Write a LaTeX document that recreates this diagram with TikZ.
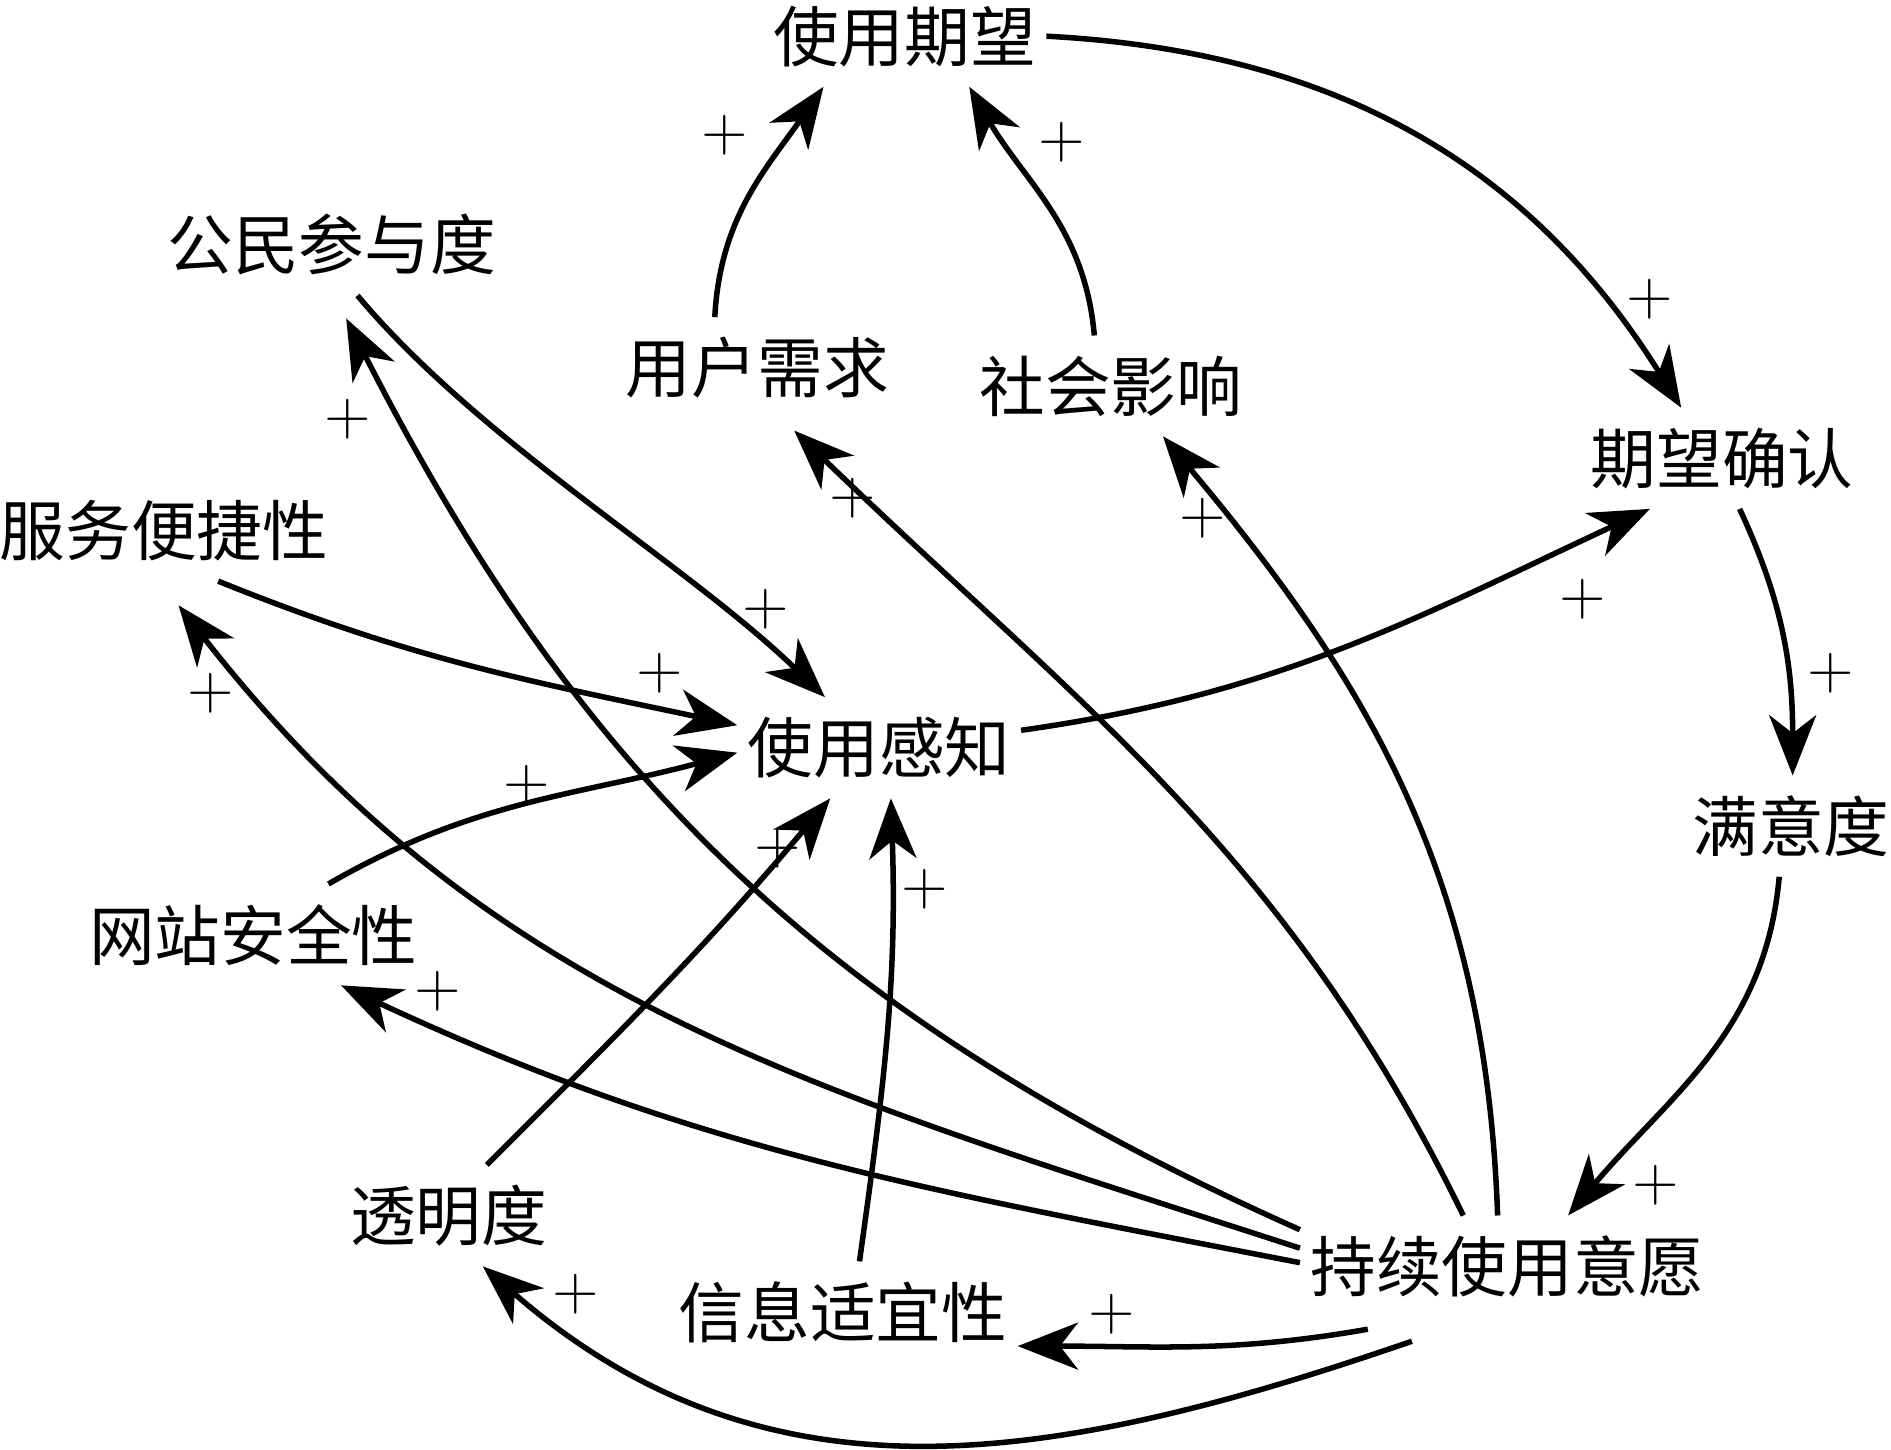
\documentclass[tikz,border=0pt]{standalone}
\usepackage{fontspec}
\newfontfamily\cjk{Noto Sans CJK SC}
\usetikzlibrary{arrows.meta}

\begin{document}
\begin{tikzpicture}[x=0.1mm,y=0.1mm,
  box/.style={font=\cjk\fontsize{15.5}{18}\selectfont, inner xsep=0.8mm, inner ysep=1.6mm},
  pls/.style={font=\fontsize{15}{18}\selectfont, inner sep=0pt},
  link/.style={line width=1.3pt, -{Stealth[length=5mm,width=3.9mm,inset=1.5mm]}}]
\useasboundingbox (0,0) rectangle (1568,-1202);

\node[box] (qw) at (750,-30) {使用期望};
\node[box] (gm) at (275,-203) {公民参与度};
\node[box] (yh) at (628,-305) {用户需求};
\node[box] (sh) at (921,-320) {社会影响};
\node[box] (qr) at (1428,-380) {期望确认};
\node[box] (fw) at (136,-440) {服务便捷性};
\node[box] (gz) at (729,-620) {使用感知};
\node[box] (my) at (1485,-685) {满意度};
\node[box] (wz) at (210,-775) {网站安全性};
\node[box] (tm) at (372,-1008) {透明度};
\node[box] (cx) at (1250,-1050) {持续使用意愿};
\node[box] (xx) at (699,-1088) {信息适宜性};

% outer loop
\draw[link] (qw.east) to[out=-3,in=122] (qr.129);
\draw[link] (yh.130) to[out=87,in=235] (qw.212);
\draw[link] (sh.108) to[out=95,in=-60] (qw.-38);
\draw[link] (qr.-71) to[out=-65,in=90] (my.88);
\draw[link] (my.257) to[out=-95,in=50] (cx.40);
\draw[link] (gz.7) to[out=8,in=205] (qr.215);

% into perception
\draw[link] (gm.-63) to[out=-50,in=136,looseness=0.8] (gz.137);
\draw[link] (fw.-43) to[out=-22,in=168] (gz.171);
\draw[link] (wz.34) to[out=30,in=195] (gz.182);
\draw[link] (tm.53) to[out=45,in=230] (gz.226);
\draw[link] (xx.72) to[out=82,in=-88] (gz.-77);

% out of intention
\draw[link] (cx.170) to[out=156,in=-63] ([yshift=-1.9mm]gm.-74);
\draw[link] (cx.175) to[out=162,in=-52] ([yshift=-2mm]fw.-74);
\draw[link] (cx.179) to[out=169,in=-25] (wz.-30);
\draw[link] (cx.131) to[out=116,in=-44] ([yshift=-1mm]yh.-54);
\draw[link] (cx.101) to[out=92,in=-50] (sh.-44);
\draw[link] ([yshift=-1mm]cx.200) to[out=190,in=0] (xx.-11);
\draw[link] ([yshift=-2mm]cx.208) to[out=199,in=-41,looseness=1.04] (tm.-56);

\foreach \px/\py [count=\i] in {601/112, 880/118, 1368/248, 288/348, 707/413,
  997/430, 1312/497, 635/505, 547/558, 1518/558, 175/575, 437/651, 645/703,
  767/737, 363/822, 1373/983, 477/1073, 922/1090}
  \node[pls] (p\i) at (\px,-\py) {$+$};
\end{tikzpicture}
\end{document}
